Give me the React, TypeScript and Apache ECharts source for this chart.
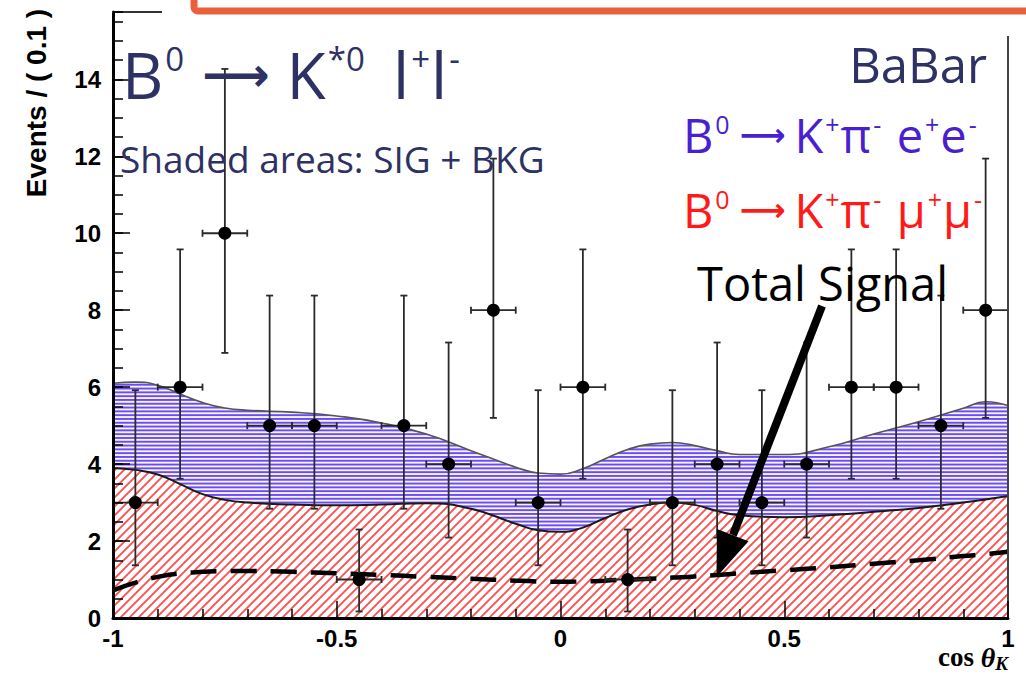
import React, { useEffect, useRef } from "react";
import * as echarts from "echarts";

// Data points: events per bin of cos(theta_K), bin width 0.1
const binCenters = [-0.95, -0.85, -0.75, -0.65, -0.55, -0.45, -0.35, -0.25, -0.15, -0.05,
  0.05, 0.15, 0.25, 0.35, 0.45, 0.55, 0.65, 0.75, 0.85, 0.95];
const counts = [3, 6, 10, 5, 5, 1, 5, 4, 8, 3, 6, 1, 3, 4, 3, 4, 6, 6, 5, 8];
const errLow = [1.37, 3.62, 6.89, 2.84, 2.84, 0.17, 2.84, 2.09, 5.2, 1.37,
  3.62, 0.17, 1.37, 2.09, 1.37, 2.09, 3.62, 3.62, 2.84, 5.2];
const errHigh = [5.92, 9.58, 14.27, 8.38, 8.38, 2.3, 8.38, 7.16, 11.94, 5.92,
  9.58, 2.3, 5.92, 7.16, 5.92, 7.16, 9.58, 9.58, 8.38, 11.94];
const binHalfWidth = 0.05;

// Fit projections sampled along cos(theta_K)
const curveX = [-1, -0.95, -0.9, -0.85, -0.8, -0.75, -0.7, -0.6, -0.5, -0.4, -0.3, -0.2, -0.1, -0.05,
  0, 0.05, 0.1, 0.15, 0.2, 0.25, 0.3, 0.35, 0.4, 0.5, 0.6, 0.7, 0.8, 0.9, 0.95, 1];
// SIG + BKG, e+e- stacked on mu+mu-
const totalFit = [6.1, 6.13, 6.05, 5.82, 5.6, 5.46, 5.4, 5.35, 5.25, 5.07, 4.78, 4.35, 3.92, 3.77,
  3.74, 3.88, 4.14, 4.38, 4.52, 4.56, 4.48, 4.35, 4.25, 4.25, 4.45, 4.78, 5.1, 5.45, 5.62, 5.52];
// SIG + BKG, mu+mu- only
const muMuFit = [3.9, 3.85, 3.73, 3.48, 3.22, 3.07, 3.0, 2.95, 2.93, 2.95, 2.98, 2.84, 2.45, 2.28,
  2.24, 2.35, 2.6, 2.82, 2.95, 3.0, 2.94, 2.78, 2.67, 2.62, 2.67, 2.76, 2.86, 3.0, 3.08, 3.17];
// Total signal component
const totalSignal = [0.72, 0.92, 1.07, 1.16, 1.2, 1.22, 1.22, 1.2, 1.16, 1.12, 1.07, 1.02, 0.97, 0.95,
  0.94, 0.95, 0.97, 1.0, 1.02, 1.05, 1.08, 1.12, 1.16, 1.24, 1.32, 1.41, 1.5, 1.61, 1.66, 1.72];

const DECO = "'Open Sans', 'DejaVu Sans', sans-serif";
const AXIS_FONT = "'Liberation Sans', Arial, sans-serif";
const NAVY = "#2e3163";
const VIOLET = "#4a1fd0";
const RED = "#ff1a1a";

const svgUrl = (svg: string) => "data:image/svg+xml;charset=utf-8," + encodeURIComponent(svg);

// horizontal hatching (5 lines per 19px tile)
const blueTile = svgUrl(
  `<svg xmlns="http://www.w3.org/2000/svg" width="8" height="19"><rect width="8" height="19" fill="#f5f3ff"/>` +
    [0, 1, 2, 3, 4].map((i) => `<rect x="0" y="${i * 3.8}" width="8" height="1.9" fill="#6c4cf2"/>`).join("") +
    `</svg>`
);
// 45 degree hatching
const redTile = svgUrl(
  `<svg xmlns="http://www.w3.org/2000/svg" width="9" height="9"><rect width="9" height="9" fill="#fff"/>` +
    `<path d="M-1,10 L10,-1 M-3,3 L3,-3 M6,12 L12,6" stroke="#ff4d4d" stroke-width="1.8" fill="none"/></svg>`
);

const formulaRich = (size: number, sup: number, gap: number, arrow: number) => ({
  b: { fontFamily: DECO, fontWeight: 400, fontSize: size, lineHeight: size },
  e: { fontFamily: DECO, fontWeight: 400, fontSize: size, lineHeight: size, padding: [0, 0, 0, gap * 1.6] },
  s: { fontFamily: DECO, fontWeight: 400, fontSize: sup, lineHeight: sup, verticalAlign: "top", padding: [0, 1, 0, 2] },
  a: { fontFamily: "'DejaVu Sans'", fontWeight: "bold", fontSize: arrow, lineHeight: size, padding: [0, gap, 0, gap] },
});

function renderErrorBar(params: any, api: any) {
  const x = api.value(0);
  const y = api.value(1);
  const lo = api.value(2);
  const hi = api.value(3);
  const c = api.coord([x, y]);
  const pLo = api.coord([x, lo]);
  const pHi = api.coord([x, hi]);
  const pL = api.coord([x - binHalfWidth, y]);
  const pR = api.coord([x + binHalfWidth, y]);
  const cap = 3.5;
  const stroke = { stroke: "#2a2a2a", lineWidth: 1.8 };
  return {
    type: "group",
    children: [
      { type: "line", shape: { x1: c[0], y1: pLo[1], x2: c[0], y2: pHi[1] }, style: stroke },
      { type: "line", shape: { x1: c[0] - cap, y1: pLo[1], x2: c[0] + cap, y2: pLo[1] }, style: stroke },
      { type: "line", shape: { x1: c[0] - cap, y1: pHi[1], x2: c[0] + cap, y2: pHi[1] }, style: stroke },
      { type: "line", shape: { x1: pL[0], y1: c[1], x2: pR[0], y2: c[1] }, style: stroke },
      { type: "line", shape: { x1: pL[0], y1: c[1] - cap, x2: pL[0], y2: c[1] + cap }, style: stroke },
      { type: "line", shape: { x1: pR[0], y1: c[1] - cap, x2: pR[0], y2: c[1] + cap }, style: stroke },
      { type: "circle", shape: { cx: c[0], cy: c[1], r: 6.5 }, style: { fill: "#000" } },
    ],
  };
}

export default function App() {
  const ref = useRef<HTMLDivElement>(null);

  useEffect(() => {
    document.body.style.margin = "0";
    if (!ref.current) return;
    const chart = echarts.init(ref.current, undefined, { renderer: "svg" });

    const tickLine = { color: "#000", width: 1.5 };
    const option: any = {
      animation: false,
      backgroundColor: "#fff",
      grid: { left: 113, top: 12, width: 895, height: 606 },
      xAxis: [
        {
          type: "value", min: -1, max: 1, interval: 0.5, z: 5,
          axisLine: { show: true, onZero: false, lineStyle: { color: "#000", width: 3 } },
          axisTick: { show: true, inside: true, length: 17, lineStyle: tickLine },
          minorTick: { show: true, splitNumber: 5, length: 9, lineStyle: tickLine },
          axisLabel: { fontFamily: AXIS_FONT, fontWeight: "bold", fontSize: 24, color: "#000", margin: 8 },
          splitLine: { show: false }, minorSplitLine: { show: false },
        },
        {
          type: "value", position: "top", min: -1, max: 1, z: 5,
          axisLine: { show: true, onZero: false, lineStyle: { color: "#333", width: 2 } },
          axisTick: { show: false }, axisLabel: { show: false }, splitLine: { show: false },
        },
      ],
      yAxis: [
        {
          type: "value", min: 0, max: 15.75, interval: 2, z: 5,
          axisLine: { show: true, onZero: false, lineStyle: { color: "#000", width: 3 } },
          axisTick: { show: true, inside: true, length: 17, lineStyle: tickLine },
          axisLabel: { fontFamily: AXIS_FONT, fontWeight: "bold", fontSize: 24, color: "#000", margin: 12, showMaxLabel: false },
          splitLine: { show: false },
        },
        {
          type: "value", position: "right", min: 0, max: 15.75, z: 5,
          axisLine: { show: true, onZero: false, lineStyle: { color: "#444", width: 2 } },
          axisTick: { show: false }, axisLabel: { show: false }, splitLine: { show: false },
        },
        {
          type: "value", position: "left", min: 0, max: 15.75, interval: 0.5, z: 5,
          axisLine: { show: false, onZero: false },
          axisTick: { show: true, inside: true, length: 10, lineStyle: tickLine },
          axisLabel: { show: false }, splitLine: { show: false },
        },
      ],
      series: [
        {
          name: "e+e-", type: "line", smooth: true, symbol: "none", z: 2,
          data: curveX.map((x, i) => [x, totalFit[i]]),
          lineStyle: { color: "#555", width: 1.6 },
          areaStyle: { opacity: 1, color: { image: blueTile, repeat: "repeat", imageWidth: 8, imageHeight: 19 } },
        },
        {
          name: "mu+mu-", type: "line", smooth: true, symbol: "none", z: 2,
          data: curveX.map((x, i) => [x, muMuFit[i]]),
          lineStyle: { color: "#1a1a1a", width: 2 },
          areaStyle: { opacity: 1, color: { image: redTile, repeat: "repeat", imageWidth: 9, imageHeight: 9 } },
        },
        {
          name: "Total Signal", type: "line", smooth: true, symbol: "none", z: 3,
          data: curveX.map((x, i) => [x, totalSignal[i]]),
          lineStyle: { color: "#000", width: 4.5, type: [26, 14] },
        },
        {
          name: "data", type: "custom", z: 4,
          renderItem: renderErrorBar,
          encode: { x: 0, y: 1 },
          data: binCenters.map((x, i) => [x, counts[i], errLow[i], errHigh[i]]),
        },
      ],
      graphic: [
        { type: "rect", z: 90, silent: true, shape: { x: 162, y: 0, width: 870, height: 36 }, style: { fill: "#fff" } },
        {
          type: "rect", z: 91, silent: true, shape: { x: 194, y: -40, width: 900, height: 51, r: 4 },
          style: { fill: "#fff", stroke: "#e8603c", lineWidth: 7 },
        },
        {
          type: "text", z: 50, x: 36, y: 103, rotation: Math.PI / 2,
          style: { text: "Events / ( 0.1 )", fontFamily: AXIS_FONT, fontWeight: "bold", fontSize: 28, fill: "#000", align: "center", verticalAlign: "middle" },
        },
        {
          type: "text", z: 50, x: 1008, y: 657,
          style: {
            text: "{c|cos }{t|θ}{k|K}", align: "right", verticalAlign: "middle", fill: "#000",
            rich: {
              c: { fontFamily: "'Liberation Serif', serif", fontWeight: "bold", fontSize: 27, lineHeight: 32 },
              t: { fontFamily: "'Liberation Serif', serif", fontWeight: "bold", fontStyle: "italic", fontSize: 28, lineHeight: 32 },
              k: { fontFamily: "'Liberation Serif', serif", fontWeight: "bold", fontStyle: "italic", fontSize: 19, lineHeight: 14, verticalAlign: "bottom" },
            },
          },
        },
        {
          type: "text", z: 50, x: 122, y: 74,
          style: {
            text: "{b|B}{s|0}{a|⟶}{b|K}{s|*0}{e|l}{s|+}{b|l}{s|-}",
            fill: NAVY, verticalAlign: "middle", rich: formulaRich(64, 33, 17, 47),
          },
        },
        {
          type: "text", z: 50, x: 120, y: 158,
          style: { text: "Shaded areas: SIG + BKG", fontFamily: DECO, fontWeight: 400, fontSize: 37, fill: NAVY, verticalAlign: "middle" },
        },
        {
          type: "text", z: 50, x: 987, y: 64,
          style: { text: "BaBar", fontFamily: DECO, fontWeight: 400, fontSize: 49, fill: NAVY, align: "right", verticalAlign: "middle" },
        },
        {
          type: "text", z: 50, x: 683, y: 135,
          style: {
            text: "{b|B}{s|0}{a|⟶}{b|K}{s|+}{b|π}{s|-}{e|e}{s|+}{b|e}{s|-}",
            fill: VIOLET, verticalAlign: "middle", rich: formulaRich(47, 25, 9, 32),
          },
        },
        {
          type: "text", z: 50, x: 683, y: 210,
          style: {
            text: "{b|B}{s|0}{a|⟶}{b|K}{s|+}{b|π}{s|-}{e|μ}{s|+}{b|μ}{s|-}",
            fill: RED, verticalAlign: "middle", rich: formulaRich(47, 25, 9, 32),
          },
        },
        {
          type: "text", z: 50, x: 697, y: 283,
          style: { text: "Total Signal", fontFamily: DECO, fontWeight: 400, fontSize: 47, fill: "#000", verticalAlign: "middle" },
        },
        {
          type: "line", z: 100, silent: true,
          shape: { x1: 822, y1: 306, x2: 733, y2: 535 },
          style: { stroke: "#000", lineWidth: 8 },
        },
        {
          type: "polygon", z: 100, silent: true,
          shape: { points: [[716.5, 577], [748.5, 541.3], [716.9, 528.9]] },
          style: { fill: "#000" },
        },
      ],
    };

    chart.setOption(option);
    return () => chart.dispose();
  }, []);

  return <div ref={ref} style={{ width: 1026, height: 678 }} />;
}
